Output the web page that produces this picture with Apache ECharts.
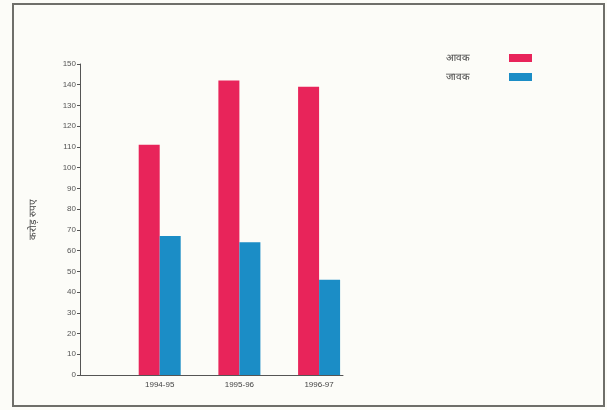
<!DOCTYPE html>
<html>
<head>
<meta charset="utf-8">
<script src="https://cdn.jsdelivr.net/npm/echarts@6/dist/echarts.min.js"></script>
<style>
html,body{margin:0;padding:0;background:#fcfcf8;}
#chart{width:607px;height:410px;}
</style>
</head>
<body>
<div id="chart"></div>
<script>
const categories = ['1994-95', '1995-96', '1996-97'];
const seriesNames = ['आवक', 'जावक'];
const redValues = [111, 142, 139];
const blueValues = [67, 64, 46];
const yAxisName = 'करोड़ रुपए';

const toPoints = vals => vals.map((v, i) => [i + 1, v]);

const chart = echarts.init(document.getElementById('chart'));
chart.setOption({
  backgroundColor: '#fcfcf8',
  animation: false,
  graphic: [{
    type: 'rect',
    shape: { x: 13, y: 4, width: 591, height: 402 },
    style: { fill: 'none', stroke: '#6f6f6a', lineWidth: 2 }
  }],
  legend: {
    orient: 'vertical',
    left: 441,
    top: 48,
    align: 'right',
    itemWidth: 23,
    itemHeight: 8,
    itemGap: 9,
    icon: 'rect',
    textStyle: { fontSize: 10, color: '#444', padding: [0, 34, 0, 0] },
    data: seriesNames
  },
  grid: { left: 80, right: 264, top: 64, bottom: 35 },
  xAxis: {
    type: 'value',
    min: 0,
    max: 3.3,
    interval: 1,
    splitLine: { show: false },
    axisLine: { show: true, lineStyle: { color: '#555', width: 1 } },
    axisTick: { show: false },
    axisLabel: {
      fontSize: 8,
      color: '#444',
      margin: 6,
      formatter: v => (Number.isInteger(v) && v >= 1 && v <= categories.length) ? categories[v - 1] : ''
    }
  },
  yAxis: {
    type: 'value',
    min: 0,
    max: 150,
    interval: 10,
    name: yAxisName,
    nameLocation: 'middle',
    nameRotate: 90,
    nameGap: 42,
    nameTextStyle: { fontSize: 10, color: '#444' },
    splitLine: { show: false },
    axisLine: { show: true, lineStyle: { color: '#555', width: 1 } },
    axisTick: { show: true, length: 3, lineStyle: { color: '#555' } },
    axisLabel: { fontSize: 8, color: '#555', margin: 4 }
  },
  series: [
    {
      name: seriesNames[0],
      type: 'bar',
      barWidth: 21,
      barGap: '0%',
      itemStyle: { color: '#e8245a' },
      data: toPoints(redValues)
    },
    {
      name: seriesNames[1],
      type: 'bar',
      barWidth: 21,
      barGap: '0%',
      itemStyle: { color: '#1b8dc6' },
      data: toPoints(blueValues)
    }
  ]
});
</script>
</body>
</html>
